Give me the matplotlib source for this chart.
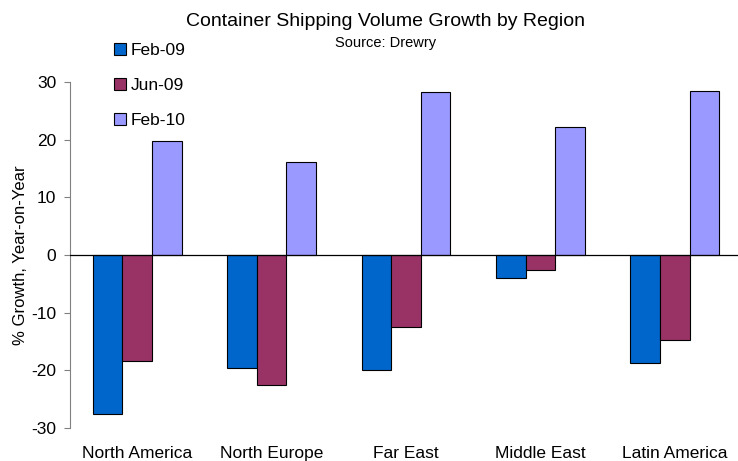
import numpy as np
import matplotlib.pyplot as plt

plt.rcParams['font.family'] = ['Liberation Sans', 'DejaVu Sans']
plt.rcParams['axes.unicode_minus'] = False

regions = ['North America', 'North Europe', 'Far East', 'Middle East', 'Latin America']
feb09 = [-27.5, -19.6, -19.9, -4.0, -18.7]
jun09 = [-18.4, -22.5, -12.5, -2.6, -14.7]
feb10 = [19.8, 16.2, 28.2, 22.2, 28.4]
series = [('Feb-09', feb09, '#0066CC'),
          ('Jun-09', jun09, '#993366'),
          ('Feb-10', feb10, '#9999FF')]

fig = plt.figure(figsize=(7.38, 4.61), dpi=100)
ax = fig.add_axes([70 / 738, 33 / 461, 672 / 738, 346 / 461])

x = np.arange(len(regions))
w = 0.22
handles = []
for i, (name, vals, color) in enumerate(series):
    b = ax.bar(x + (i - 1) * w, vals, w, color=color, edgecolor='black',
               linewidth=0.8, label=name, zorder=2)
    handles.append(b)

ax.axhline(0, color='black', linewidth=0.9, zorder=3)
ax.set_xlim(-0.5, 4.5)
ax.set_ylim(-30, 30)
ax.set_yticks([-30, -20, -10, 0, 10, 20, 30])
ax.set_xticks(x)
ax.set_xticklabels(regions, fontsize=12.5)
ax.tick_params(axis='x', length=0, pad=13)
ax.tick_params(axis='y', labelsize=12.5, length=4, color='#808080', pad=6)
for s in ['top', 'right', 'bottom']:
    ax.spines[s].set_visible(False)
ax.spines['left'].set_color('#808080')
ax.set_ylabel('% Growth, Year-on-Year', fontsize=12, labelpad=2)

fig.text(386 / 738, 1 - 21 / 461, 'Container Shipping Volume Growth by Region',
         ha='center', va='center', fontsize=14)
fig.text(386 / 738, 1 - 43 / 461, 'Source: Drewry', ha='center', va='center', fontsize=10.5)

fig.legend(handles=handles, loc='upper left', bbox_to_anchor=(105 / 738, 1 - 34 / 461),
           frameon=False, fontsize=12.5, handlelength=0.7, handleheight=0.7,
           handletextpad=0.3, labelspacing=1.15, borderpad=0)

fig.savefig('out.png', dpi=100)
